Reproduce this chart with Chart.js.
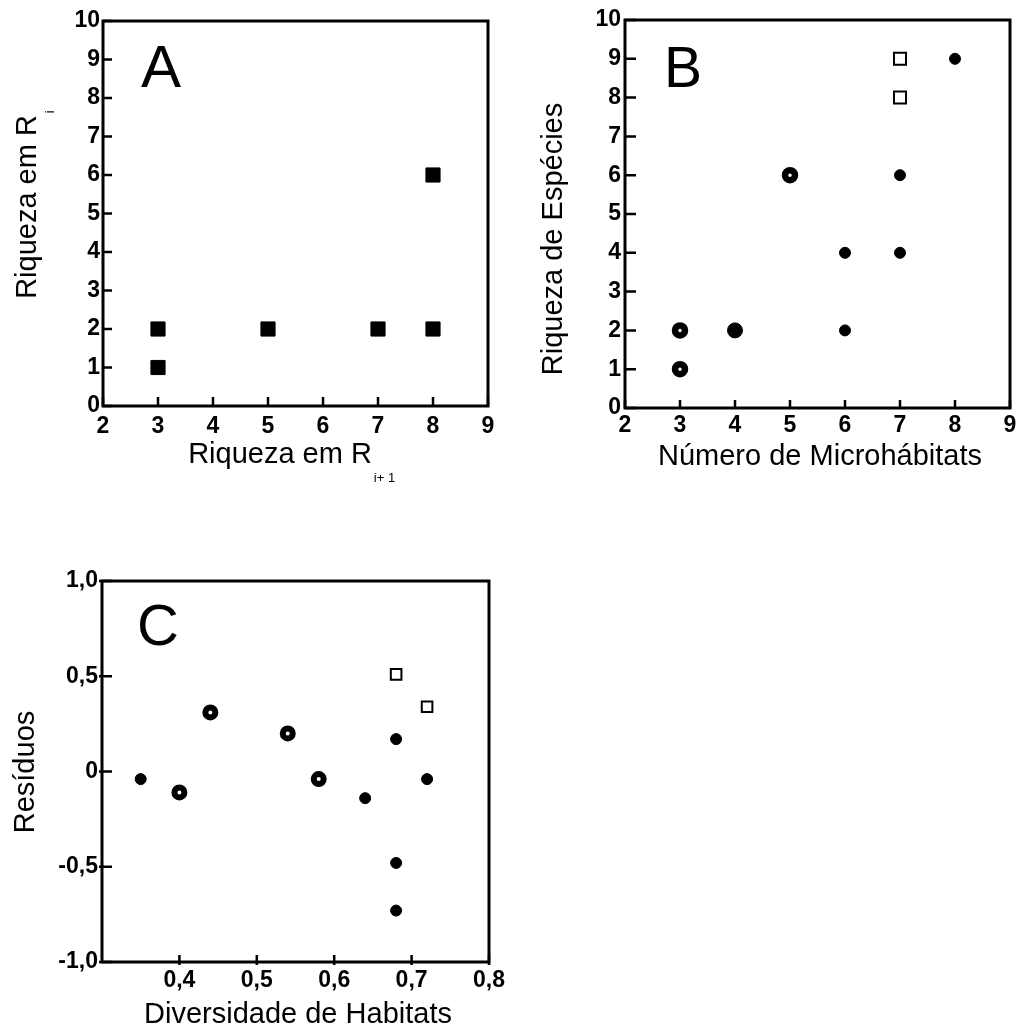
<!DOCTYPE html>
<html>
<head>
<meta charset="utf-8">
<script src="https://cdn.jsdelivr.net/npm/chart.js@4.4.0/dist/chart.umd.min.js"></script>
<style>
  body { margin: 0; background: #fff; }
  canvas { position: absolute; }
</style>
</head>
<body>
<canvas id="chartA" width="511" height="500" style="left:0;top:0"></canvas>
<canvas id="chartB" width="511" height="500" style="left:511px;top:0"></canvas>
<canvas id="chartC" width="511" height="488" style="left:0;top:540px"></canvas>
<script>
// painel A
const aX = [3, 3, 5, 7, 8, 8];
const aY = [2, 1, 2, 2, 2, 6];

// painel B
const bRingX = [3, 3, 5];
const bRingY = [2, 1, 6];
const bBigX = [4];
const bBigY = [2];
const bDotX = [6, 6, 7, 7, 8];
const bDotY = [4, 2, 6, 4, 9];
const bSqX = [7, 7];
const bSqY = [9, 8];

// painel C
const cDotX = [0.35, 0.64, 0.68, 0.72, 0.68, 0.68];
const cDotY = [-0.04, -0.14, 0.17, -0.04, -0.48, -0.73];
const cRingX = [0.40, 0.44, 0.54, 0.58];
const cRingY = [-0.11, 0.31, 0.20, -0.04];
const cSqX = [0.68, 0.72];
const cSqY = [0.51, 0.34];
const cTicksX = [0.4, 0.5, 0.6, 0.7, 0.8];
const cTickLabelsX = ['0,4', '0,5', '0,6', '0,7', '0,8'];
const cTicksY = [-1, -0.5, 0, 0.5, 1];
const cTickLabelsY = ['-1,0', '-0,5', '0', '0,5', '1,0'];

const FONT = "'Liberation Sans', Arial, sans-serif";
Chart.defaults.font.family = FONT;
Chart.defaults.color = '#000';

function pts(xs, ys) {
  return xs.map((x, i) => ({ x: x, y: ys[i] }));
}

// caixa, ticks para dentro, letra do painel e títulos
const decor = {
  id: 'decor',
  afterDraw(chart, args, o) {
    const ctx = chart.ctx;
    const a = chart.chartArea;
    const sx = chart.scales.x, sy = chart.scales.y;
    ctx.save();
    ctx.strokeStyle = '#000';
    ctx.lineWidth = 2.5;
    ctx.beginPath();
    sx.ticks.forEach(t => {
      const p = sx.getPixelForValue(t.value);
      ctx.moveTo(p, a.bottom + o.tickOut);
      ctx.lineTo(p, a.bottom - o.tickInX);
    });
    sy.ticks.forEach(t => {
      const p = sy.getPixelForValue(t.value);
      ctx.moveTo(a.left - o.tickOut, p);
      ctx.lineTo(a.left + o.tickInY, p);
    });
    ctx.stroke();
    ctx.lineWidth = 3;
    ctx.strokeRect(a.left, a.top, a.right - a.left, a.bottom - a.top);

    ctx.fillStyle = '#000';
    ctx.textBaseline = 'alphabetic';
    ctx.textAlign = 'left';
    ctx.font = o.letterSize + 'px ' + FONT;
    ctx.fillText(o.letter, o.letterX, o.letterY);

    // título eixo x
    const xt = o.xTitle;
    ctx.font = '29px ' + FONT;
    ctx.textAlign = 'center';
    ctx.fillText(xt.text, xt.x, xt.y);
    if (xt.sub) {
      const w = ctx.measureText(xt.text).width;
      ctx.font = '13px ' + FONT;
      ctx.textAlign = 'left';
      ctx.fillText(xt.sub, xt.x + w / 2 + 2, xt.y + 19);
    }
    // título eixo y
    const yt = o.yTitle;
    ctx.save();
    ctx.translate(yt.x, yt.y);
    ctx.rotate(-Math.PI / 2);
    ctx.font = '29px ' + FONT;
    ctx.textAlign = 'center';
    ctx.fillText(yt.text, 0, 0);
    if (yt.sub) {
      const w = ctx.measureText(yt.text).width;
      ctx.font = '13px ' + FONT;
      ctx.textAlign = 'left';
      ctx.fillText(yt.sub, w / 2 + 2, 18);
    }
    ctx.restore();
    ctx.restore();
  }
};

function fixWidth(w) {
  return function (scale) { scale.width = w; };
}
function fixHeight(h) {
  return function (scale) { scale.height = h; };
}

function baseScales(xMin, xMax, yMin, yMax, yW, xH, xPad, yPad) {
  return {
    x: {
      type: 'linear', min: xMin, max: xMax,
      grid: { display: false, drawTicks: false },
      border: { display: false },
      ticks: { stepSize: 1, padding: xPad, maxRotation: 0, autoSkip: false, font: { size: 23, weight: 'bold' } },
      afterFit: fixHeight(xH)
    },
    y: {
      type: 'linear', min: yMin, max: yMax,
      grid: { display: false, drawTicks: false },
      border: { display: false },
      ticks: { stepSize: 1, padding: yPad, autoSkip: false, font: { size: 23, weight: 'bold' } },
      afterFit: fixWidth(yW)
    }
  };
}

const commonOpts = {
  responsive: false,
  animation: false,
  events: [],
  plugins: { legend: { display: false }, tooltip: { enabled: false } }
};

// A
new Chart(document.getElementById('chartA'), {
  type: 'scatter',
  data: {
    datasets: [{
      data: pts(aX, aY),
      pointStyle: 'rect', pointRadius: 10, borderWidth: 1,
      backgroundColor: '#000', borderColor: '#000'
    }]
  },
  options: Object.assign({}, commonOpts, {
    layout: { padding: { top: 21, right: 23, left: 0, bottom: 0 } },
    scales: baseScales(2, 9, 0, 10, 103, 94, 7, 3),
    plugins: Object.assign({}, commonOpts.plugins, {
      decor: {
        tickInX: 9, tickInY: 9, tickOut: 0,
        letter: 'A', letterSize: 60, letterX: 141, letterY: 87,
        xTitle: { text: 'Riqueza em R', x: 280, y: 463, sub: 'i+ 1' },
        yTitle: { text: 'Riqueza em R', x: 36, y: 207, sub: 'i' }
      }
    })
  }),
  plugins: [decor]
});

// B
new Chart(document.getElementById('chartB'), {
  type: 'scatter',
  data: {
    datasets: [
      { data: pts(bRingX, bRingY), pointStyle: 'circle', pointRadius: 5, borderWidth: 6.5,
        backgroundColor: '#fff', borderColor: '#000' },
      { data: pts(bBigX, bBigY), pointStyle: 'circle', pointRadius: 7.5, borderWidth: 1,
        backgroundColor: '#000', borderColor: '#000' },
      { data: pts(bDotX, bDotY), pointStyle: 'circle', pointRadius: 5.5, borderWidth: 1,
        backgroundColor: '#000', borderColor: '#000' },
      { data: pts(bSqX, bSqY), pointStyle: 'rect', pointRadius: 8.5, borderWidth: 2,
        backgroundColor: '#fff', borderColor: '#000' }
    ]
  },
  options: Object.assign({}, commonOpts, {
    layout: { padding: { top: 20, right: 12, left: 0, bottom: 0 } },
    scales: baseScales(2, 9, 0, 10, 114, 92, 4, 4),
    plugins: Object.assign({}, commonOpts.plugins, {
      decor: {
        tickInX: 8, tickInY: 11, tickOut: 0,
        letter: 'B', letterSize: 57, letterX: 153, letterY: 87,
        xTitle: { text: 'Número de Microhábitats', x: 309, y: 465 },
        yTitle: { text: 'Riqueza de Espécies', x: 51, y: 239 }
      }
    })
  }),
  plugins: [decor]
});

// C
const scalesC = baseScales(0.3, 0.8, -1, 1, 102, 66, 5, 4);
scalesC.x.afterBuildTicks = function (scale) { scale.ticks = cTicksX.map(v => ({ value: v })); };
scalesC.x.ticks.callback = function (v) { return cTickLabelsX[cTicksX.indexOf(Math.round(v * 10) / 10)]; };
scalesC.y.afterBuildTicks = function (scale) { scale.ticks = cTicksY.map(v => ({ value: v })); };
scalesC.y.ticks.callback = function (v) { return cTickLabelsY[cTicksY.indexOf(Math.round(v * 10) / 10)]; };

new Chart(document.getElementById('chartC'), {
  type: 'scatter',
  data: {
    datasets: [
      { data: pts(cRingX, cRingY), pointStyle: 'circle', pointRadius: 5, borderWidth: 6,
        backgroundColor: '#fff', borderColor: '#000' },
      { data: pts(cDotX, cDotY), pointStyle: 'circle', pointRadius: 5.5, borderWidth: 1,
        backgroundColor: '#000', borderColor: '#000' },
      { data: pts(cSqX, cSqY), pointStyle: 'rect', pointRadius: 7.5, borderWidth: 2,
        backgroundColor: '#fff', borderColor: '#000' }
    ]
  },
  options: Object.assign({}, commonOpts, {
    layout: { padding: { top: 41, right: 22, left: 0, bottom: 0 } },
    scales: scalesC,
    plugins: Object.assign({}, commonOpts.plugins, {
      decor: {
        tickInX: 7, tickInY: 10, tickOut: 3,
        letter: 'C', letterSize: 58, letterX: 137, letterY: 105,
        xTitle: { text: 'Diversidade de Habitats', x: 298, y: 483 },
        yTitle: { text: 'Resíduos', x: 34, y: 232 }
      }
    })
  }),
  plugins: [decor]
});
</script>
</body>
</html>
